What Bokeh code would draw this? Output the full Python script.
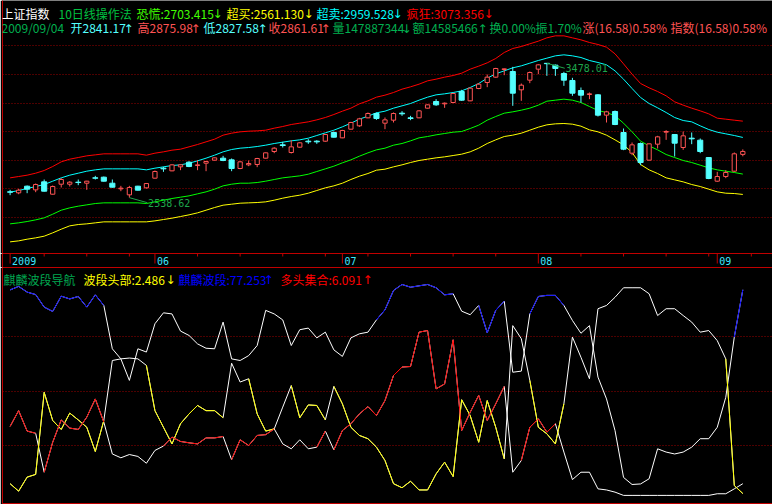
from bokeh.plotting import figure
from bokeh.layouts import column
from bokeh.models import Range1d, LinearAxis, FixedTicker, Label, ColumnDataSource
from bokeh.embed import file_html
from bokeh.resources import INLINE

# ---------------------------------------------------------------- data
# trading-day index, 2009-05-05 .. 2009-09-04 (87 sessions)
bars = list(range(87))

open_ = [2579.3, 2572.3, 2618.9, 2593.2, 2649.2, 2562.9, 2632.8, 2632.8, 2646.8, 2639.8,
         2677.1, 2681.8, 2639.8, 2600.2, 2558.3, 2618.9, 2607.2, 2674.8, 2744.7, 2726.0,
         2754.0, 2786.6, 2763.3, 2779.6, 2800.6, 2814.6, 2802.9, 2742.4, 2768.0, 2770.3,
         2814.6, 2861.2, 2907.8, 2854.2, 2891.5, 2933.4, 2933.4, 2933.4, 2994.0, 2956.7,
         3017.3, 3040.6, 3096.5, 3126.8, 3059.2, 3080.2, 3129.1, 3096.5, 3096.5, 3164.1,
         3210.7, 3194.4, 3203.7, 3280.6, 3215.4, 3301.6, 3343.5, 3380.8, 3434.4, 3420.4,
         3292.2, 3359.8, 3436.7, 3477.5, 3464.7, 3406.4, 3357.5, 3287.6, 3259.6, 3257.3,
         3115.2, 3140.8, 2994.0, 2849.5, 2917.1, 2800.6, 2912.5, 2996.3, 2980.0, 2889.2,
         2954.4, 2940.4, 2819.2, 2653.8, 2686.4, 2723.7, 2841.17]
high = [2593.2, 2600.2, 2623.5, 2637.5, 2665.5, 2623.5, 2674.8, 2653.8, 2665.5, 2656.2,
        2691.1, 2686.4, 2665.5, 2621.2, 2621.2, 2621.2, 2639.8, 2728.4, 2754.0, 2772.6,
        2772.6, 2793.6, 2800.6, 2793.6, 2819.2, 2830.9, 2812.3, 2793.6, 2798.3, 2816.9,
        2854.2, 2891.5, 2928.8, 2940.4, 2926.4, 2947.4, 2940.4, 2982.4, 3001.0, 3012.6,
        3068.6, 3096.5, 3133.8, 3133.8, 3098.9, 3133.8, 3143.1, 3110.5, 3150.1, 3189.7,
        3227.0, 3203.7, 3268.9, 3292.2, 3306.2, 3338.8, 3399.4, 3446.0, 3441.4, 3453.0,
        3336.5, 3420.4, 3471.7, 3478.01, 3469.3, 3418.1, 3376.1, 3308.6, 3273.6, 3262.0,
        3145.5, 3147.8, 3022.0, 2924.1, 2924.1, 2917.1, 2970.7, 3010.3, 2982.4, 3001.0,
        2994.0, 2952.1, 2821.6, 2719.1, 2730.7, 2854.2, 2875.98]
low = [2556.0, 2562.9, 2569.9, 2577.0, 2581.6, 2560.6, 2609.5, 2616.5, 2625.9, 2593.2,
       2665.5, 2651.5, 2609.5, 2583.9, 2538.62, 2588.6, 2602.6, 2672.5, 2719.1, 2723.7,
       2730.7, 2751.7, 2730.7, 2723.7, 2798.3, 2793.6, 2723.7, 2737.7, 2758.7, 2751.7,
       2812.3, 2849.5, 2889.2, 2847.2, 2886.8, 2914.8, 2914.8, 2928.8, 2959.1, 2954.4,
       3015.0, 3033.6, 3094.2, 3082.5, 3017.3, 3063.9, 3110.5, 3080.2, 3094.2, 3161.8,
       3180.4, 3166.4, 3199.0, 3215.4, 3213.0, 3296.9, 3310.9, 3376.1, 3394.8, 3180.4,
       3215.4, 3338.8, 3401.8, 3390.1, 3390.1, 3320.2, 3250.3, 3203.7, 3227.0, 3105.8,
       3063.9, 3045.3, 2870.5, 2835.6, 2765.7, 2798.3, 2882.2, 2942.7, 2826.2, 2872.8,
       2912.5, 2849.5, 2667.8, 2649.2, 2674.8, 2719.1, 2827.58]
close = [2577.0, 2590.9, 2597.9, 2630.5, 2583.9, 2616.5, 2665.5, 2646.8, 2644.5, 2653.8,
         2674.8, 2653.8, 2611.9, 2604.9, 2609.5, 2590.9, 2637.5, 2721.4, 2740.0, 2768.0,
         2768.0, 2756.3, 2768.0, 2791.3, 2816.9, 2798.3, 2742.4, 2789.0, 2777.3, 2812.3,
         2851.9, 2884.5, 2903.1, 2893.8, 2921.8, 2928.8, 2928.8, 2980.0, 2961.4, 3008.0,
         3063.9, 3089.5, 3126.8, 3091.9, 3082.5, 3126.8, 3124.5, 3091.9, 3145.4, 3187.4,
         3187.4, 3199.0, 3266.6, 3220.0, 3303.9, 3331.8, 3380.8, 3441.4, 3439.0, 3268.9,
         3324.9, 3413.4, 3467.0, 3475.0, 3441.4, 3359.8, 3268.9, 3255.0, 3264.3, 3115.2,
         3138.5, 3049.9, 2877.5, 2907.8, 2784.3, 2914.8, 2963.7, 3001.0, 2919.4, 2970.7,
         2949.7, 2861.2, 2672.5, 2686.4, 2714.4, 2845.03, 2861.61]

# 10日线操作法 bands
crazy = [2677.1, 2686.4, 2695.8, 2709.7, 2728.4, 2756.3, 2789.0, 2807.6, 2819.2, 2830.9,
         2837.9, 2844.9, 2844.9, 2844.9, 2844.9, 2844.9, 2835.6, 2849.5, 2858.9, 2870.5,
         2877.5, 2893.8, 2910.1, 2928.8, 2947.4, 2975.4, 2989.3, 2998.7, 3003.3, 3005.6,
         3010.3, 3024.3, 3035.9, 3049.9, 3059.2, 3068.6, 3082.5, 3098.8, 3119.8, 3143.1,
         3164.1, 3194.4, 3215.3, 3241.0, 3255.0, 3273.6, 3296.9, 3313.2, 3331.8, 3355.1,
         3366.8, 3380.8, 3392.4, 3408.7, 3436.7, 3457.7, 3481.0, 3511.3, 3553.2, 3581.2,
         3595.1, 3613.8, 3632.4, 3655.7, 3669.7, 3669.7, 3655.7, 3641.7, 3623.1, 3609.1,
         3590.5, 3543.9, 3474.0, 3401.7, 3336.5, 3306.2, 3280.6, 3250.3, 3208.4, 3185.1,
         3164.1, 3145.4, 3124.5, 3094.2, 3087.2, 3080.2, 3073.356]
oversold = [2576.9, 2588.6, 2602.6, 2616.5, 2630.5, 2653.8, 2677.1, 2695.8, 2709.7, 2723.7,
            2733.0, 2740.0, 2740.0, 2740.0, 2740.0, 2740.0, 2733.0, 2744.7, 2754.0, 2763.3,
            2768.0, 2779.6, 2795.9, 2814.6, 2835.6, 2858.9, 2875.2, 2884.5, 2889.1, 2896.1,
            2905.5, 2917.1, 2926.4, 2935.7, 2942.7, 2954.4, 2973.0, 2991.7, 3010.3, 3033.6,
            3059.2, 3087.2, 3108.2, 3131.5, 3143.1, 3164.1, 3180.4, 3196.7, 3220.0, 3241.0,
            3257.3, 3264.3, 3273.6, 3285.2, 3308.5, 3336.5, 3373.8, 3404.1, 3425.0, 3446.0,
            3460.0, 3478.6, 3497.3, 3513.6, 3529.9, 3536.9, 3529.9, 3518.2, 3497.3, 3483.3,
            3467.0, 3425.0, 3366.8, 3301.6, 3238.6, 3196.7, 3166.4, 3133.8, 3098.8, 3077.9,
            3068.6, 3040.6, 3015.0, 2996.3, 2984.7, 2973.0, 2959.528]
panic = [2355.6, 2362.6, 2371.9, 2383.5, 2397.5, 2423.1, 2451.1, 2467.4, 2479.1, 2488.4,
         2497.7, 2502.4, 2502.4, 2502.4, 2502.4, 2502.4, 2497.7, 2509.4, 2521.0, 2532.7,
         2542.0, 2551.3, 2565.3, 2579.3, 2597.9, 2621.2, 2632.8, 2639.8, 2639.8, 2644.5,
         2653.8, 2665.5, 2677.1, 2684.1, 2691.1, 2702.7, 2721.4, 2740.0, 2758.7, 2782.0,
         2802.9, 2828.6, 2851.9, 2872.8, 2884.5, 2905.5, 2917.1, 2935.7, 2956.7, 2966.0,
         2977.7, 2987.0, 2996.3, 3001.0, 3022.0, 3045.3, 3080.2, 3105.8, 3129.1, 3138.5,
         3150.1, 3164.1, 3185.1, 3213.0, 3220.0, 3227.0, 3220.0, 3203.7, 3175.7, 3147.8,
         3133.8, 3110.5, 3059.2, 2998.7, 2933.4, 2900.8, 2872.8, 2840.2, 2819.2, 2798.3,
         2784.3, 2765.7, 2747.0, 2733.0, 2723.7, 2714.4, 2703.415]
overbought = [2229.8, 2236.7, 2248.4, 2257.7, 2269.4, 2292.7, 2318.3, 2341.6, 2350.9, 2355.6,
              2362.6, 2369.6, 2369.6, 2369.6, 2369.6, 2369.6, 2369.6, 2376.5, 2385.9, 2395.2,
              2406.8, 2418.5, 2432.5, 2451.1, 2469.7, 2486.1, 2493.0, 2500.0, 2502.4, 2504.7,
              2509.4, 2521.0, 2535.0, 2546.6, 2556.0, 2569.9, 2588.6, 2607.2, 2621.2, 2639.8,
              2665.5, 2688.8, 2707.4, 2730.7, 2737.7, 2754.0, 2768.0, 2784.3, 2798.3, 2807.6,
              2816.9, 2823.9, 2833.2, 2842.5, 2858.9, 2884.5, 2917.1, 2942.7, 2966.0, 2975.4,
              2989.3, 3010.3, 3031.3, 3047.6, 3054.6, 3056.9, 3052.2, 3038.3, 3012.6, 2998.7,
              2975.4, 2942.7, 2907.8, 2854.2, 2770.3, 2733.0, 2707.4, 2677.1, 2663.1, 2649.2,
              2630.5, 2616.5, 2597.9, 2579.3, 2569.9, 2567.6, 2561.13]

# date axis
month_ticks = [0, 17, 39, 62, 83]
month_labels = ["2009", "06", "07", "08", "09"]
week_ticks = [4, 9, 14, 22, 27, 32, 37, 42, 47, 52, 57, 67, 72, 77, 82, 87]
price_grid = [2400, 2600, 2800, 3000, 3200, 3400, 3600]

# 麒麟波段导航 indicator
head = [6.1, 3.35, 8.5, 9.5, 39.6, 29.3, 26.0, 32.0, 29.5, 26.8,
        17.9, 29.3, 51.3, 51.9, 52.2, 51.9, 49.5, 32.9, 26.8, 20.7,
        28.1, 31.7, 34.8, 32.9, 32.9, 30.3, 50.3, 43.4, 44.6, 31.7,
        25.4, 26.2, 34.2, 42.1, 30.3, 35.0, 34.8, 29.5, 41.8, 35.4,
        26.8, 23.8, 22.6, 19.5, 14.6, 6.1, 4.6, 7.0, 3.8, 3.8,
        9.7, 14.0, 8.7, 36.9, 31.1, 21.3, 36.6, 26.8, 15.2, 64.1,
        59.3, 44.0, 26.8, 24.4, 20.7, 35.4, 59.9, 52.5, 44.6, 70.3,
        71.5, 74.5, 78.0, 78.0, 78.0, 75.8, 67.8, 70.3, 70.3, 67.8,
        65.4, 61.7, 62.3, 58.6, 51.9, 5.4, 2.486]
qilin = [77.2, 78.5, 76.4, 75.5, 70.9, 69.3, 74.9, 73.9, 74.8, 70.9,
         75.4, 71.5, 55.6, 51.9, 44.0, 55.6, 54.4, 64.8, 68.8, 68.4,
         62.1, 60.5, 57.4, 55.8, 55.6, 65.4, 51.9, 51.3, 53.1, 56.8,
         69.7, 68.4, 66.2, 56.8, 62.6, 63.2, 59.6, 61.7, 55.2, 52.8,
         59.6, 61.1, 61.7, 66.2, 69.9, 77.0, 79.2, 78.2, 78.7, 79.2,
         78.0, 75.4, 75.8, 69.4, 68.1, 71.5, 61.5, 69.7, 73.1, 47.0,
         47.4, 68.4, 74.8, 75.2, 75.2, 71.5, 66.0, 61.3, 64.1, 45.2,
         37.2, 25.6, 8.4, 5.8, 6.0, 7.9, 18.9, 17.7, 17.0, 17.7,
         19.5, 22.6, 22.6, 26.8, 37.8, 59.9, 77.253]
bull = [27.1, 32.9, 25.4, 24.6, 10.3, 21.3, 29.5, 26.5, 26.0, 30.5,
        37.2, 28.7, 17.0, 15.6, 16.8, 16.1, 13.6, 18.3, 19.9, 23.2,
        21.6, 21.1, 20.7, 22.9, 22.9, 23.4, 14.9, 22.2, 20.1, 23.8,
        24.1, 26.2, 20.7, 18.9, 22.2, 18.9, 19.5, 25.4, 18.5, 25.6,
        28.1, 31.7, 34.4, 31.1, 36.6, 45.8, 48.9, 49.1, 61.7, 62.3,
        40.9, 42.7, 58.9, 25.6, 32.3, 38.5, 29.3, 35.4, 41.8, 10.3,
        14.6, 26.8, 29.9, 25.0, 28.1, 17.7, 7.6, 10.3, 10.3, 4.2,
        3.8, 3.0, 1.8, 1.8, 1.8, 1.8, 1.8, 1.8, 1.8, 1.8,
        1.8, 1.8, 1.8, 2.4, 2.4, 4.2, 6.091]

# runs of bars (first, last) whose incoming segment is drawn in the line's own colour;
# everything else is drawn white
head_runs = [(1, 11), (17, 25), (29, 31), (34, 37), (39, 58), (62, 65), (85, 86)]
qilin_runs = [(1, 11), (44, 52), (56, 58), (62, 65), (86, 86)]
bull_runs = [(1, 3), (5, 11), (19, 25), (27, 31), (37, 37), (39, 58), (61, 64)]

# ---------------------------------------------------------------- geometry / style
W = 772
FRAME_LEFT = 2
BAR_PX = 8.52
FIRST_BAR_PX = 9.6
X_START = -(FIRST_BAR_PX - FRAME_LEFT) / BAR_PX
X_END = X_START + (W - FRAME_LEFT) / BAR_PX

MAIN_BOT_ROW, P_REF_ROW, P_REF, P_PER_PX = 253, 217, 2400.0, 6.989
AXIS_ROWS = 14
L_TOP_ROW, L_BOT_ROW, L_ZERO_ROW, L_PX = 267, 503, 499.8, 2.725


def price_at(row):
    return P_REF + (P_REF_ROW - row) * P_PER_PX


def ind_at(row):
    return (L_ZERO_ROW - row) / L_PX


def x_at(px):
    return X_START + (px - FRAME_LEFT) / BAR_PX


BG = "#000000"
BORDER = "#c00000"
GRID = "#9a0000"
UP = "#ff5454"
DOWN = "#54ffff"
TXT_GREEN = "#00b050"
CJK = "Noto Sans CJK SC"
MONO = "DejaVu Sans Mono"
ARROW_FONT = "DejaVu Sans"


def frame_axis(ax):
    ax.ticker = FixedTicker(ticks=[])
    ax.axis_line_color = BORDER
    ax.axis_line_width = 1
    ax.major_tick_out = 0
    ax.major_tick_in = 0
    ax.minor_tick_out = 0
    ax.minor_tick_in = 0
    ax.major_label_text_font_size = "0px"
    ax.major_label_standoff = 0


def base_fig(height, y_range, bottom=0):
    f = figure(width=W, height=height, x_range=xr, y_range=y_range,
               output_backend="svg", toolbar_location=None,
               min_border_left=FRAME_LEFT, min_border_right=0,
               min_border_top=0, min_border_bottom=bottom)
    f.background_fill_color = BG
    f.border_fill_color = BG
    f.outline_line_color = None
    f.xgrid.visible = False
    f.ygrid.visible = False
    frame_axis(f.yaxis[0])
    return f


def add_item(fig, text, arrow, color, left_px, right_px, y):
    """Title entry: text from left_px, optional arrow ending at right_px."""
    fig.add_layout(Label(x=x_at(left_px), y=y, text=text, text_color=color,
                         text_font=CJK, text_font_size="12px",
                         text_align="left", text_baseline="alphabetic"))
    if arrow:
        fig.add_layout(Label(x=x_at(right_px), y=y, y_offset=-1, text=arrow,
                             text_color=color, text_font=ARROW_FONT,
                             text_font_size="12px",
                             text_align="right", text_baseline="alphabetic"))


xr = Range1d(X_START, X_END)

# ---------------------------------------------------------------- main panel (with header rows)
p1 = base_fig(MAIN_BOT_ROW, Range1d(price_at(MAIN_BOT_ROW), price_at(0)))
p1.xaxis.visible = False
p1.ygrid.visible = True
p1.ygrid.ticker = FixedTicker(ticks=price_grid)
p1.ygrid.grid_line_color = GRID
p1.ygrid.grid_line_dash = "1 2"

for series, col in ((crazy, "#ff0000"), (oversold, "#00ffff"),
                    (panic, "#00ff00"), (overbought, "#ffff00")):
    p1.line(bars, series, line_color=col, line_width=1)

# candles: rising sessions hollow red, falling ones solid cyan
is_up = [c > o for o, c in zip(open_, close)]
wick_cols = [UP if u else DOWN for u in is_up]
p1.segment(x0=bars, y0=low, x1=bars, y1=high, line_color=wick_cols, line_width=1)
dn = ColumnDataSource(dict(x=[b for b, u in zip(bars, is_up) if not u],
                           top=[o for o, u in zip(open_, is_up) if not u],
                           bottom=[c for c, u in zip(close, is_up) if not u]))
p1.vbar(x="x", top="top", bottom="bottom", width=0.6, source=dn,
        fill_color=DOWN, line_color=DOWN, line_width=1)
upsrc = ColumnDataSource(dict(x=[b for b, u in zip(bars, is_up) if u],
                              top=[c for c, u in zip(close, is_up) if u],
                              bottom=[o for o, u in zip(open_, is_up) if u]))
p1.vbar(x="x", top="top", bottom="bottom", width=0.5, source=upsrc,
        fill_color=BG, line_color=UP, line_width=1)

# highest / lowest price markers
MARK = "#1ea64b"
lo_i = min(bars, key=lambda i: low[i])
hi_i = max(bars, key=lambda i: high[i])
for idx, val in ((lo_i, low[lo_i]), (hi_i, high[hi_i])):
    p1.segment(x0=[idx], y0=[val], x1=[idx + 2.1], y1=[val - 5 * P_PER_PX],
               line_color=MARK, line_width=1)
    p1.add_layout(Label(x=idx + 2.2, y=val, y_offset=-1, text=f"{val:.2f}",
                        text_color=MARK, text_font=MONO, text_font_size="10px",
                        text_align="left", text_baseline="top"))

# header rows
prev_close = close[-2]
chg = close[-1] - prev_close
row1 = [("上证指数", "", "#ffffff", 1, 0),
        ("10日线操作法", "", "#00c040", 58, 0),
        (f"恐慌:{panic[-1]:.3f}", "↓", "#40ff00", 136, 222),
        (f"超买:{overbought[-1]:.3f}", "↓", "#ffff00", 226, 313),
        (f"超卖:{oversold[-1]:.3f}", "↓", "#00ffff", 316, 402),
        (f"疯狂:{crazy[-1]:.3f}", "↓", "#ff0000", 406, 493)]
row2 = [("2009/09/04", "", TXT_GREEN, 1, 0),
        (f"开{open_[-1]:.2f}", "↑", DOWN, 70, 133),
        (f"高{high[-1]:.2f}", "↑", UP, 137, 200),
        (f"低{low[-1]:.2f}", "↑", DOWN, 203, 267),
        (f"收{close[-1]:.2f}", "↑", UP, 268, 330),
        ("量147887344", "↓", TXT_GREEN, 332, 411),
        ("额14585466", "↑", TXT_GREEN, 412, 487),
        ("换0.00%", "", TXT_GREEN, 489, 0),
        (f"振{(high[-1] - low[-1]) / prev_close * 100:.2f}%", "", TXT_GREEN, 535, 0),
        (f"涨({chg:.2f}){chg / prev_close * 100:.2f}%", "", UP, 582, 0),
        (f"指数({chg:.2f}){chg / prev_close * 100:.2f}%", "", UP, 670, 0)]
for txt, arr, col, left, right in row1:
    add_item(p1, txt, arr, col, left, right, price_at(12.5))
for txt, arr, col, left, right in row2:
    add_item(p1, txt, arr, col, left, right, price_at(27))

# ---------------------------------------------------------------- date strip
pm = base_fig(AXIS_ROWS, Range1d(0, AXIS_ROWS))
pm.xaxis.visible = False
date_line = LinearAxis()
frame_axis(date_line)
pm.add_layout(date_line, "above")
pm.segment(x0=week_ticks, y0=[AXIS_ROWS] * len(week_ticks),
           x1=week_ticks, y1=[AXIS_ROWS - 3] * len(week_ticks), line_color=BORDER)
pm.segment(x0=month_ticks, y0=[AXIS_ROWS] * len(month_ticks),
           x1=month_ticks, y1=[AXIS_ROWS - 10] * len(month_ticks), line_color=BORDER)
for t, lab in zip(month_ticks, month_labels):
    pm.add_layout(Label(x=t, y=6.7, x_offset=2, text=lab,
                        text_color="#3ee8ff", text_font=MONO, text_font_size="10px",
                        text_align="left", text_baseline="middle"))

# ---------------------------------------------------------------- indicator panel
p2 = base_fig(504 - L_TOP_ROW, Range1d(ind_at(L_BOT_ROW), ind_at(L_TOP_ROW)), bottom=1)
p2.ygrid.visible = True
p2.ygrid.ticker = FixedTicker(ticks=[20, 40, 60])
p2.ygrid.grid_line_color = GRID
p2.ygrid.grid_line_dash = "1 2"
frame_axis(p2.xaxis[0])
top_axis = LinearAxis()
frame_axis(top_axis)
p2.add_layout(top_axis, "above")

for series in (head, qilin, bull):
    p2.line(bars, series, line_color="#ffffff", line_width=1)


def runs_source(series, runs):
    d = dict(x0=[], y0=[], x1=[], y1=[])
    for a, b in runs:
        for i in range(a, b + 1):
            d["x0"].append(bars[i - 1])
            d["y0"].append(series[i - 1])
            d["x1"].append(bars[i])
            d["y1"].append(series[i])
    return ColumnDataSource(d)


for series, runs, col in ((head, head_runs, "#ffff00"),
                          (qilin, qilin_runs, "#0000ff"),
                          (bull, bull_runs, "#ff0000")):
    p2.segment(x0="x0", y0="y0", x1="x1", y1="y1", source=runs_source(series, runs),
               line_color=col, line_width=1)

title2 = [("麒麟波段导航", "", "#00a850", 3, 0),
          (f"波段头部:{head[-1]:.3f}", "↓", "#ffff00", 83, 175),
          (f"麒麟波段:{qilin[-1]:.3f}", "↑", "#0000ff", 178, 273),
          (f"多头集合:{bull[-1]:.3f}", "↑", "#ff0000", 280, 372)]
for txt, arr, col, left, right in title2:
    add_item(p2, txt, arr, col, left, right, ind_at(278.5))

layout = column(p1, pm, p2, spacing=0)
open("out.html", "w").write(file_html(layout, INLINE))
